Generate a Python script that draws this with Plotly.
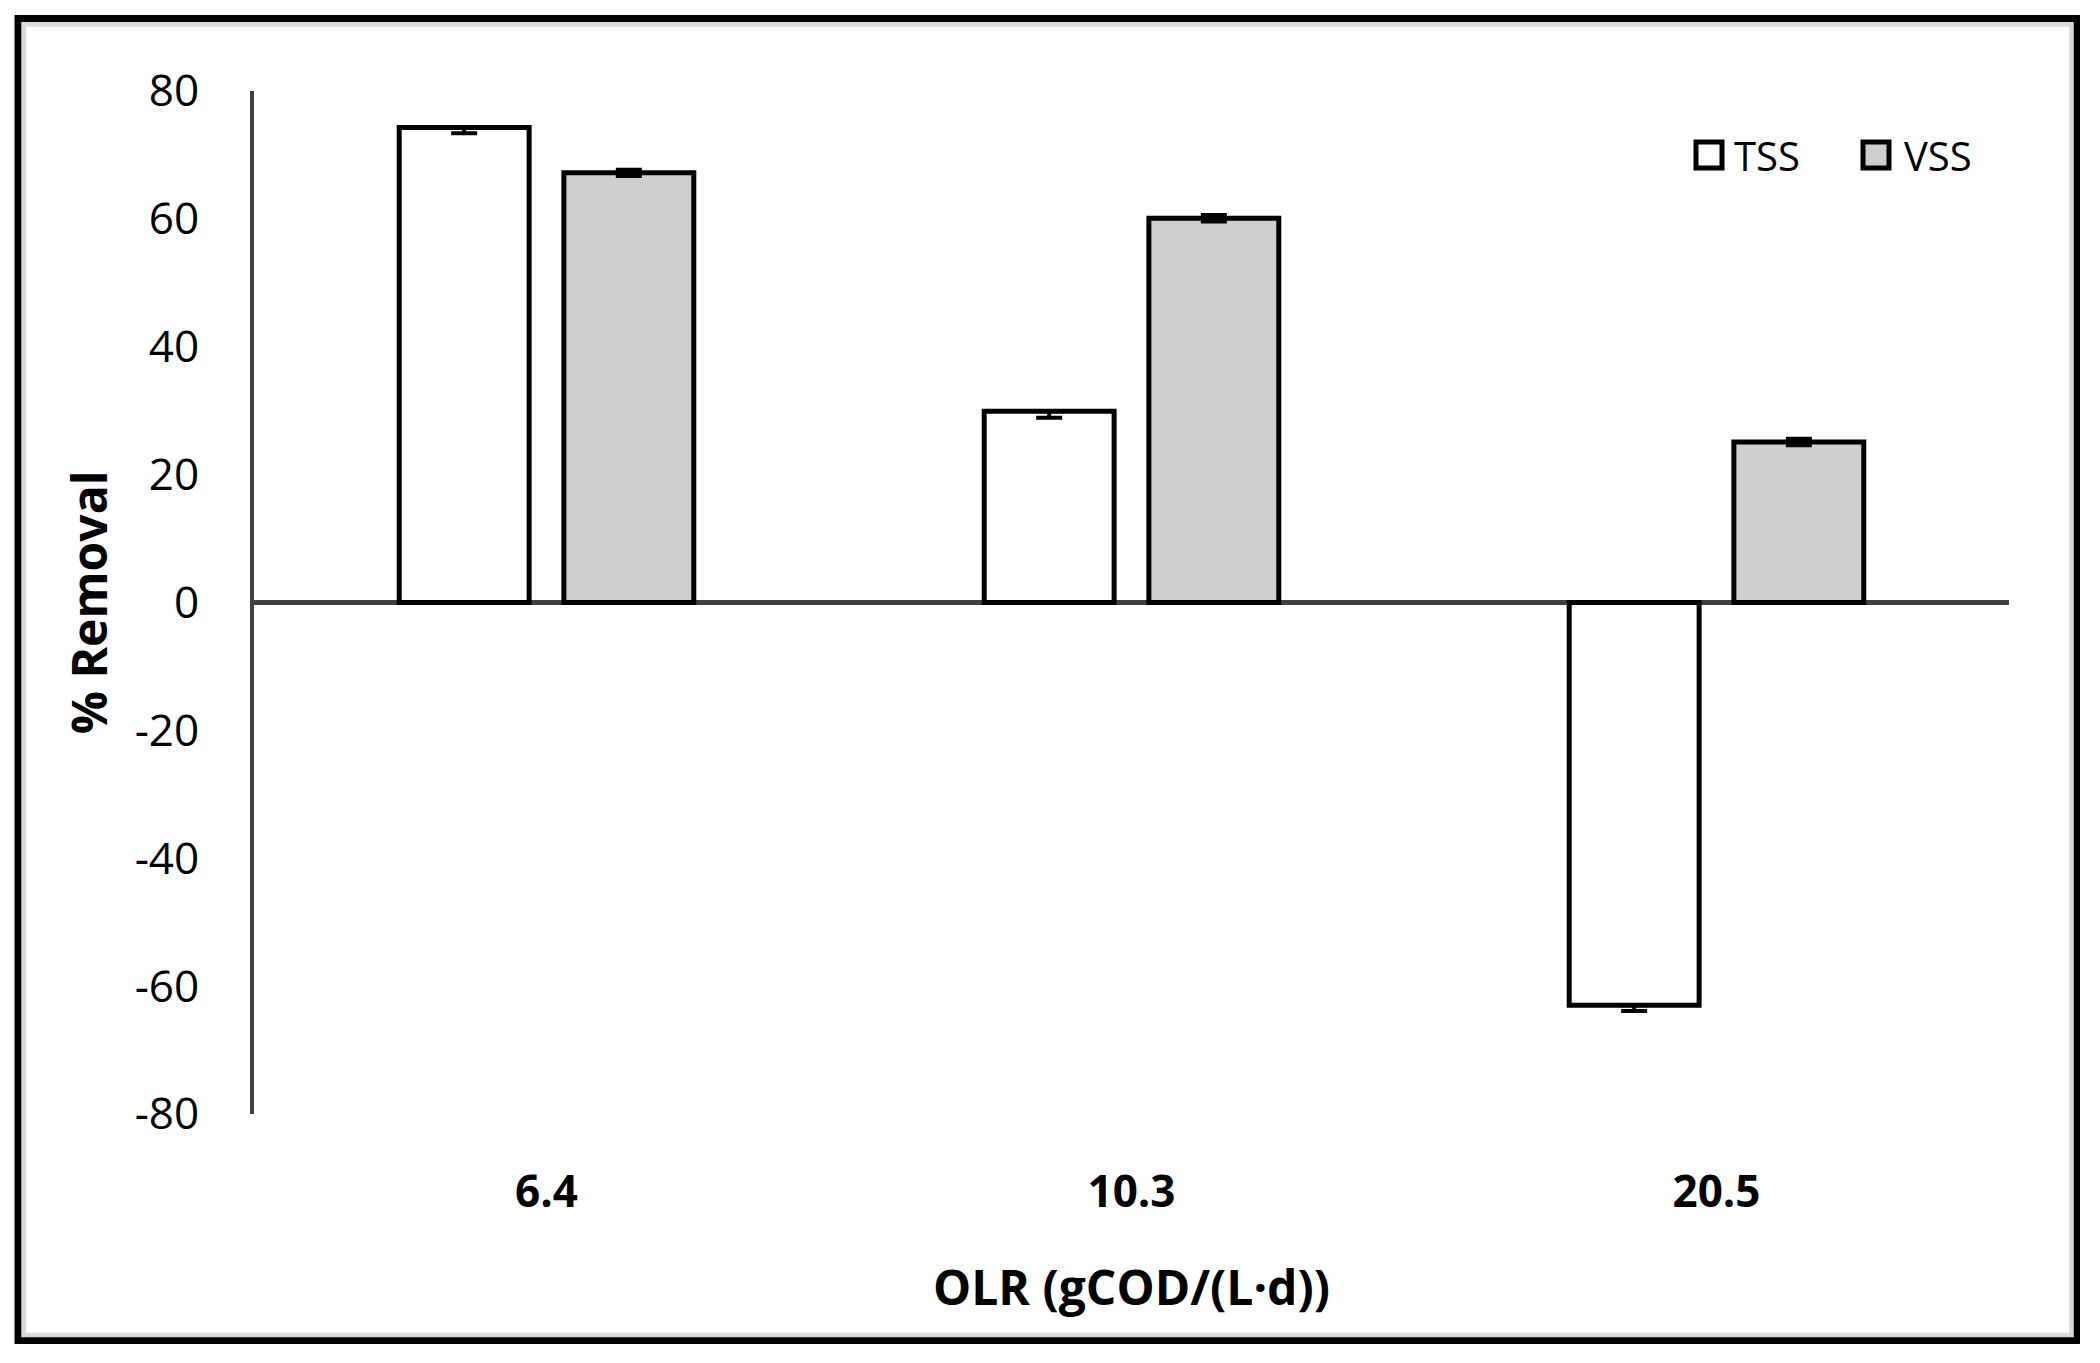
import plotly.graph_objects as go

categories = ["6.4", "10.3", "20.5"]
tss = [74.3, 29.9, -63.0]
vss = [67.2, 60.1, 25.1]
tss_err_plus = [0.0, 0.0, 0.0]
tss_err_minus = [0.9, 1.0, 0.9]
vss_err = [0.5, 0.5, 0.5]
y_tickvals = [-80, -60, -40, -20, 0, 20, 40, 60, 80]
y_ticktext = ["-80", "-60", "-40", "-20", "0", "20", "40", "60", "80"]
series_names = ["TSS", "VSS"]
series_fill = ["white", "#D0CECF"]

# page has an 8px body margin; work in page pixels and convert
OFF = 8
W, H = 2084, 1347
plot_left, plot_right, plot_top, plot_bottom = 254, 2009, 91, 1114  # page px
ml = plot_left - OFF
mt = plot_top - OFF
mr = W - (plot_right - OFF)
mb = H - (plot_bottom - OFF)
pw, ph = W - ml - mr, H - mt - mb


def px_x(p):
    return (p - OFF - ml) / pw


def px_y(p):
    return (H - mb - (p - OFF)) / ph


FONT = "Open Sans"

fig = go.Figure()
fig.add_trace(go.Bar(
    name=series_names[0], x=categories, y=tss,
    marker=dict(color=series_fill[0], line=dict(color="black", width=5)),
    error_y=dict(type="data", symmetric=False, array=tss_err_plus, arrayminus=tss_err_minus,
                 color="black", thickness=4, width=13),
))
fig.add_trace(go.Bar(
    name=series_names[1], x=categories, y=vss,
    marker=dict(color=series_fill[1], line=dict(color="black", width=5)),
    error_y=dict(type="data", array=vss_err, color="black", thickness=4, width=13),
))

shapes = [
    dict(type="rect", xref="paper", yref="paper",
         x0=px_x(18), x1=px_x(2076.5), y0=px_y(18.5), y1=px_y(1340.5),
         line=dict(color="black", width=7), layer="below"),
    dict(type="rect", xref="paper", yref="paper",
         x0=px_x(24), x1=px_x(2071.5), y0=px_y(24.5), y1=px_y(1335),
         line=dict(color="#D9D9D9", width=4.5), layer="below"),
]
annotations = []
legend_box_x = [1696, 1863]
legend_text_x = [1732, 1902]
for name, fill, bx, tx in zip(series_names, series_fill, legend_box_x, legend_text_x):
    shapes.append(dict(type="rect", xref="paper", yref="paper",
                       x0=px_x(bx), x1=px_x(bx + 26), y0=px_y(142), y1=px_y(168),
                       fillcolor=fill, line=dict(color="black", width=5)))
    annotations.append(dict(xref="paper", yref="paper", x=px_x(tx), y=px_y(155),
                            xanchor="left", yanchor="middle", showarrow=False, text=name,
                            font=dict(family=FONT, size=40, color="black")))

fig.update_layout(
    width=W, height=H,
    margin=dict(l=ml, r=mr, t=mt, b=mb, autoexpand=False),
    paper_bgcolor="white", plot_bgcolor="white",
    font=dict(family=FONT, color="black", size=44),
    barmode="group", bargap=0.437, bargroupgap=0.211,
    showlegend=False,
    shapes=shapes,
    annotations=annotations,
    xaxis=dict(
        range=[-0.5, 2.5], showline=False, ticks="", showgrid=False, zeroline=False,
        tickfont=dict(family=FONT, size=44, weight="bold", color="black"),
        ticklabelstandoff=48,
        title=dict(text="OLR (gCOD/(L·d))", font=dict(family=FONT, size=48, weight="bold", color="black"),
                   standoff=52),
    ),
    yaxis=dict(
        range=[-80, 80], tickvals=y_tickvals, ticktext=y_ticktext,
        showline=True, linecolor="#404040", linewidth=4,
        ticks="", showgrid=False, zeroline=True, zerolinecolor="#404040", zerolinewidth=5,
        tickfont=dict(family=FONT, size=44, color="black"),
        ticklabelstandoff=42,
        title=dict(text="% Removal", font=dict(family=FONT, size=48, weight="bold", color="black"),
                   standoff=13),
    ),
)

fig.write_html("out.html")
